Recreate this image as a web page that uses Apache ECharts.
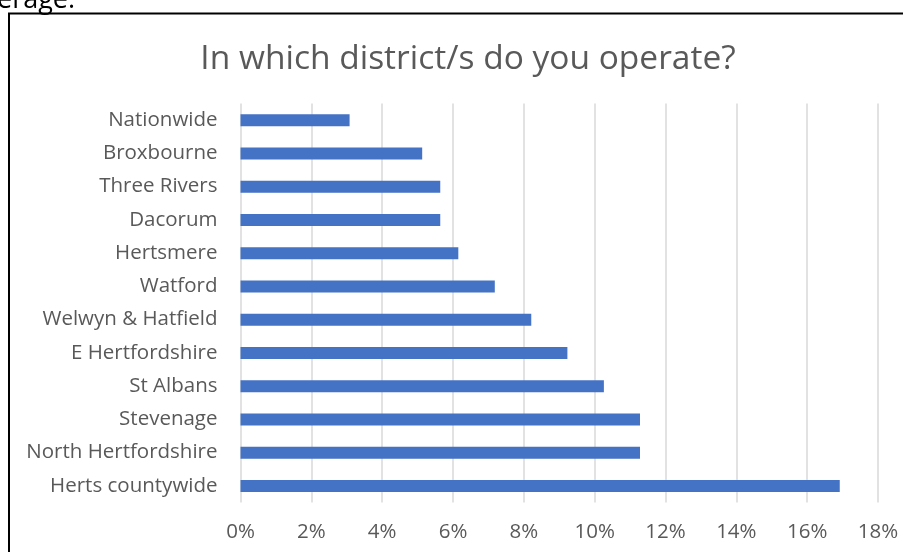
<!DOCTYPE html>
<html>
<head>
<meta charset="utf-8">
<script src="https://cdn.jsdelivr.net/npm/echarts@6/dist/echarts.min.js"></script>
<style>
  html, body { margin: 0; padding: 0; background: #ffffff; }
  #chart { width: 903px; height: 552px; }
</style>
</head>
<body>
<div id="chart"></div>
<script>
// Districts, listed bottom-to-top as they appear on the category axis
const districts = [
  'Herts countywide', 'North Hertfordshire', 'Stevenage', 'St Albans',
  'E Hertfordshire', 'Welwyn & Hatfield', 'Watford', 'Hertsmere',
  'Dacorum', 'Three Rivers', 'Broxbourne', 'Nationwide'
];
// Share of responses (%) for each district
const shares = [16.92, 11.28, 11.28, 10.26, 9.23, 8.21, 7.18, 6.15, 5.64, 5.64, 5.13, 3.08];
// Value axis range and step (%)
const axisMin = 0;
const axisMax = 18;
const axisStep = 2;

const titleText = 'In which district/s do you operate?';
const fontFamily = '"Open Sans", "Noto Sans", sans-serif';

const chart = echarts.init(document.getElementById('chart'), null, { renderer: 'canvas' });

chart.setOption({
  animation: false,
  backgroundColor: '#ffffff',
  title: {
    text: titleText,
    left: 463,
    top: 37,
    textAlign: 'center',
    textStyle: { fontFamily: fontFamily, fontSize: 33.5, fontWeight: 'normal', color: '#595959' }
  },
  grid: { left: 240.5, right: 25, top: 103.5, bottom: 49.5, containLabel: false },
  xAxis: {
    type: 'value',
    min: axisMin,
    max: axisMax,
    interval: axisStep,
    axisLine: { show: false },
    axisTick: { show: false },
    splitLine: { show: true, lineStyle: { color: '#d9d9d9', width: 1.5 } },
    axisLabel: {
      margin: 19,
      fontFamily: fontFamily,
      fontSize: 20.5,
      color: '#595959',
      formatter: v => v + '%'
    }
  },
  yAxis: {
    type: 'category',
    data: districts,
    axisLine: { show: false },
    axisTick: { show: false },
    axisLabel: { margin: 23, fontFamily: fontFamily, fontSize: 20.5, color: '#595959' }
  },
  series: [{
    type: 'bar',
    data: shares,
    barWidth: 12,
    itemStyle: { color: '#4472c4' }
  }],
  graphic: [
    {
      type: 'rect',
      shape: { x: 9, y: 13.5, width: 1000, height: 1000 },
      style: { fill: 'none', stroke: '#000000', lineWidth: 2 },
      silent: true
    },
    {
      type: 'text',
      left: -3,
      top: -13,
      style: { text: 'erage.', font: '27px ' + fontFamily, fill: '#000000' },
      silent: true
    }
  ]
});
</script>
</body>
</html>
